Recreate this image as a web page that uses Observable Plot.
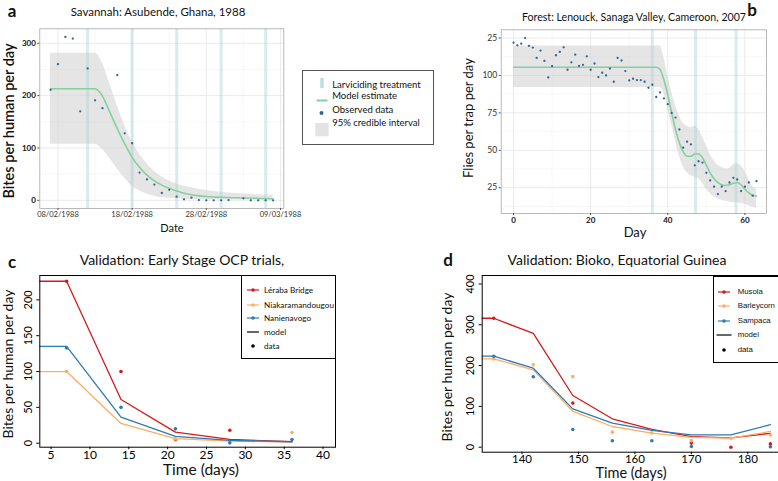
<!DOCTYPE html>
<html><head><meta charset="utf-8">
<script src="https://cdn.jsdelivr.net/npm/d3@7"></script>
<script src="https://cdn.jsdelivr.net/npm/@observablehq/plot@0.6"></script>
<style>
html,body{margin:0;padding:0;background:#fff;}
body{width:778px;height:481px;position:relative;overflow:hidden;font-family:Lato,"Open Sans",sans-serif;color:#111;}
.t{position:absolute;white-space:nowrap;transform:translate(-50%,-50%);line-height:1;}
.lg{position:absolute;box-sizing:border-box;overflow:hidden;background:#fff;}
.lg .it{position:absolute;white-space:nowrap;line-height:1;transform:translateY(-50%);}
</style></head><body>
<script>
// ---------------- DATA ----------------
// Panel a: Savannah, Asubende, Ghana, 1988
const aTickLabels = ["08/02/1988","18/02/1988","28/02/1988","09/03/1988"];
const aObsDates = ["1988-02-07","1988-02-08","1988-02-09","1988-02-10","1988-02-11","1988-02-12","1988-02-13","1988-02-14","1988-02-16","1988-02-17","1988-02-18","1988-02-19","1988-02-20","1988-02-21","1988-02-22","1988-02-23","1988-02-24","1988-02-25","1988-02-26","1988-02-27","1988-02-28","1988-02-29","1988-03-01","1988-03-02","1988-03-04","1988-03-05","1988-03-06","1988-03-07","1988-03-08"];
const aObsValues = [211,260,312,309,170,252,191,176,239,128,109,53,40,30,14,20,7,2,5,0.5,0,0,0,0.5,3.8,0,0,0,0];
const aModelDates = ["1988-02-07","1988-02-13","1988-02-14","1988-02-15","1988-02-16","1988-02-17","1988-02-18","1988-02-19","1988-02-20","1988-02-21","1988-02-22","1988-02-23","1988-02-24","1988-02-25","1988-02-26","1988-02-27","1988-02-28","1988-03-01","1988-03-04","1988-03-08"];
const aModelValues = [213,213,199,168,137,108,82,63,48,37,29,23,18,13.5,10.5,8.5,7.2,5.8,4.5,3];
const aCIDates = ["1988-02-07","1988-02-13","1988-02-14","1988-02-15","1988-02-16","1988-02-17","1988-02-18","1988-02-19","1988-02-20","1988-02-21","1988-02-22","1988-02-23","1988-02-24","1988-02-25","1988-02-26","1988-02-28","1988-03-02","1988-03-08"];
const aCIUpper = [281,281,262,222,180,143,112,88,70,55,45,37,31,27,24,19,14,9.5];
const aCILower = [107,107,97,80,60,42,27,18,12,8,5,4,3,2,1.5,1,0.5,0];
const aTreatDates = ["1988-02-12","1988-02-18","1988-02-24","1988-03-01","1988-03-07"];
const aYTicks = [0,100,200,300];

// Panel b: Forest, Lenouck, Sanaga Valley, Cameroon, 2007
const bObsValues = [121.9,120.1,121.2,125,119.7,118.6,111.7,116.6,109.7,98.7,106.2,113.5,115.7,118.8,103.8,108.8,113.9,106.4,107.1,112.8,103.8,108,98.9,101.8,100,104.6,95.8,111.7,110,102.9,96.7,97.8,96.9,96.9,95.8,91.8,93.8,85.6,88.7,84.7,80.8,75,71.9,63.9,51.8,55.8,54,40,42.7,41.8,35,29.9,25.7,20.8,25.7,22.8,28.5,31.6,30.5,22.8,25.7,28.5,19.7,29.4];
const bObsDays = bObsValues.map((v, i) => i);
const bModelDays = [0,37,38,39,40,41,42,43,44,45,46,47,48,49,50,51,52,53,54,55,56,57,58,59,60,61,62,63];
const bModelValues = [105.5,105.5,104,97,87,75,64,55,49,46,46,47.5,47.5,45,40,35,31,28.5,27,26.5,27,28,28.5,27,24,21.5,20,19.5];
const bCIDays = [0,38,39,40,41,42,43,44,45,46,47,48,49,50,51,52,53,54,55,56,57,58,59,60,61,62,63];
const bCIUpper = [119.6,119.6,112,100,89,80,73,68,66,65,66,64,59,53,47,43,40,38.5,37.5,38,40,41,39.5,36,31,26,24];
const bCILower = [92,92,88,78,67,56,46,39,35,33,32,31,28,24,21,19,17.5,16.5,16,15.5,15,15,14.5,14,13,12,11.5];
const bTreatDays = [36,47.2,57.7];
const bXTicks = [0,20,40,60];
const bYTicks = [25,50,75,100,125];
const bYTickLabels = ["25","50","75","100","25"];

// Panel c: Validation, Early Stage OCP trials
const cSites = ["Léraba Bridge","Niakaramandougou","Nanienavogo"];
const cColors = ["#d7191c","#fdae61","#2c7bb6"];
const cModelDays = [0,7,14,21,28,36];
const cModelLeraba = [226,226,61,15.4,5.2,2];
const cModelNiaka = [100,100,27.5,6.3,3,1.5];
const cModelNanien = [135,135,36.3,9.4,3.8,2];
const cDataLerabaDays = [7,14,21,28];
const cDataLeraba = [226,100,5,18];
const cDataNiakaDays = [7,21,36];
const cDataNiaka = [100,6,15];
const cDataNanienDays = [7,14,21,28,36];
const cDataNanien = [133,50,20,0.5,5];
const cXTicks = [5,10,15,20,25,30,35,40];
const cYTicks = [0,50,100,150,200];

// Panel d: Validation, Bioko, Equatorial Guinea
const dSites = ["Musola","Barleycorn","Sampaca"];
const dColors = ["#d7191c","#fdae61","#2c7bb6"];
const dModelDays = [128,135,142,149,156,163,170,177,184];
const dModelMusola = [316,316,279,126.7,69.6,43.4,26,23,34];
const dModelBarley = [216.6,216.6,189.6,88,50.7,34.3,24,22,38.5];
const dModelSampaca = [223,223,193.6,94,58.8,41,30.4,30.4,55];
const dDataMusolaDays = [135,149,170,177,184];
const dDataMusola = [316,108,10,0,8];
const dDataBarleyDays = [135,142,149,156,163,170,177,184];
const dDataBarley = [216,202,173,36.8,35,16,22,30];
const dDataSampacaDays = [135,142,149,156,163,170,184];
const dDataSampaca = [223,172.5,43.4,15.7,15.7,1.6,1];
const dXTicks = [140,150,160,170,180];
const dYTicks = [0,100,200,300,400];

// ---------------- HELPERS ----------------
const parseISO = d3.utcParse("%Y-%m-%d");
const parseDMY = d3.utcParse("%d/%m/%Y");
function place(node, left, top) {
  node.style.position = "absolute";
  node.style.left = left + "px";
  node.style.top = top + "px";
  document.body.appendChild(node);
}
function txt(s, x, y, size, o = {}) {
  const d = document.createElement("div");
  d.className = "t";
  d.textContent = s;
  d.style.left = x + "px"; d.style.top = y + "px"; d.style.fontSize = size + "px";
  if (o.rot) d.style.transform = "translate(-50%,-50%) rotate(-90deg)";
  if (o.weight) d.style.fontWeight = o.weight;
  if (o.family) d.style.fontFamily = o.family;
  if (o.color) d.style.color = o.color;
  document.body.appendChild(d);
}
const zip = (xs, ys, kx = "x", ky = "y") => xs.map((x, i) => ({[kx]: x, [ky]: ys[i]}));
const ggStyle = "background:transparent;overflow:visible;font-family:Lato,'Open Sans',sans-serif;";

// ---------------- PANEL A ----------------
const aTicks = aTickLabels.map(parseDMY);
const aLabelMap = new Map(aTicks.map((d, i) => [+d, aTickLabels[i]]));
const aMinor = d3.pairs(aTicks).map(([p, q]) => new Date((+p + +q) / 2));
const aStart = aTicks[0];
const dayMs = 864e5;
const obsA = aObsDates.map((d, i) => ({date: parseISO(d), v: aObsValues[i]}));
const modelA = aModelDates.map((d, i) => ({date: parseISO(d), v: aModelValues[i]}));
const ciA = aCIDates.map((d, i) => ({date: parseISO(d), hi: aCIUpper[i], lo: aCILower[i]}));
const treatA = aTreatDates.map(parseISO);

const pa = Plot.plot({
  width: 300, height: 222,
  marginTop: 28.3, marginLeft: 39.3, marginRight: 16.7, marginBottom: 14,
  style: ggStyle,
  x: {type: "utc", domain: [new Date(+aStart - 2.45 * dayMs), new Date(+aStart + 30.45 * dayMs)]},
  y: {domain: [-15.6, 327.6]},
  marks: [
    Plot.gridX(aMinor, {stroke: "#f2f2f2", strokeOpacity: 1, strokeWidth: 0.6}),
    Plot.gridY([50,150,250], {stroke: "#f2f2f2", strokeOpacity: 1, strokeWidth: 0.6}),
    Plot.gridX(aTicks, {stroke: "#e8e8e8", strokeOpacity: 1, strokeWidth: 0.9}),
    Plot.gridY(aYTicks, {stroke: "#e8e8e8", strokeOpacity: 1, strokeWidth: 0.9}),
    Plot.areaY(ciA, {x: "date", y1: "lo", y2: "hi", fill: "#cfcfcf", fillOpacity: 0.55, curve: "monotone-x"}),
    Plot.ruleX(treatA, {stroke: "#a9d8d3", strokeOpacity: 0.45, strokeWidth: 3}),
    Plot.line(modelA, {x: "date", y: "v", stroke: "#86cf9f", strokeWidth: 1.6, curve: "monotone-x"}),
    Plot.dot(obsA, {x: "date", y: "v", r: 1.15, fill: "#33648f"}),
    Plot.frame({stroke: "#a8a8a8", strokeWidth: 0.8}),
    Plot.axisX(aTicks, {tickSize: 2, tickPadding: 1.5, tickFormat: d => aLabelMap.get(+d), fontSize: 7.5, stroke: "#555", fill: "#333", label: null}),
    Plot.axisY(aYTicks, {tickSize: 2, tickPadding: 2, fontSize: 8, fontWeight: "bold", stroke: "#555", fill: "#111", label: null})
  ]
});
place(pa, 0, 0);

// ---------------- PANEL B ----------------
const obsB = zip(bObsDays, bObsValues);
const modelB = zip(bModelDays, bModelValues);
const ciB = bCIDays.map((d, i) => ({x: d, hi: bCIUpper[i], lo: bCILower[i]}));
const bLabelMap = new Map(bYTicks.map((v, i) => [v, bYTickLabels[i]]));
const pb = Plot.plot({
  width: 298, height: 230,
  marginTop: 29.3, marginLeft: 20.7, marginRight: 12, marginBottom: 17,
  style: ggStyle,
  x: {domain: [-3.2, 65.6]},
  y: {domain: [7.8, 130.5]},
  marks: [
    Plot.gridX(d3.range(10, 70, 20), {stroke: "#f2f2f2", strokeOpacity: 1, strokeWidth: 0.6}),
    Plot.gridY(d3.range(12.5, 130, 25), {stroke: "#f2f2f2", strokeOpacity: 1, strokeWidth: 0.6}),
    Plot.gridX(bXTicks, {stroke: "#e8e8e8", strokeOpacity: 1, strokeWidth: 0.9}),
    Plot.gridY(bYTicks, {stroke: "#e8e8e8", strokeOpacity: 1, strokeWidth: 0.9}),
    Plot.areaY(ciB, {x: "x", y1: "lo", y2: "hi", fill: "#cfcfcf", fillOpacity: 0.55, curve: "monotone-x"}),
    Plot.ruleX(bTreatDays, {stroke: "#a9d8d3", strokeOpacity: 0.45, strokeWidth: 3}),
    Plot.line(modelB, {x: "x", y: "y", stroke: "#86cf9f", strokeWidth: 1.6, curve: "monotone-x"}),
    Plot.dot(obsB, {x: "x", y: "y", r: 1.15, fill: "#33648f"}),
    Plot.frame({stroke: "#a8a8a8", strokeWidth: 0.8}),
    Plot.axisX(bXTicks, {tickSize: 2, tickPadding: 1.5, fontSize: 8, fontWeight: "bold", stroke: "#555", fill: "#111", label: null}),
    Plot.axisY(bYTicks, {tickSize: 2, tickPadding: 2, fontSize: 8.5, tickFormat: d => bLabelMap.get(d), stroke: "#555", fill: "#333", label: null})
  ]
});
place(pb, 480, 0);

// ---------------- PANEL C ----------------
const colorC = {domain: cSites, range: cColors};
const modelC = [
  ...zip(cModelDays, cModelLeraba).map(d => ({...d, s: cSites[0]})),
  ...zip(cModelDays, cModelNiaka).map(d => ({...d, s: cSites[1]})),
  ...zip(cModelDays, cModelNanien).map(d => ({...d, s: cSites[2]}))
];
const dataC = [
  ...zip(cDataLerabaDays, cDataLeraba).map(d => ({...d, s: cSites[0]})),
  ...zip(cDataNiakaDays, cDataNiaka).map(d => ({...d, s: cSites[1]})),
  ...zip(cDataNanienDays, cDataNanien).map(d => ({...d, s: cSites[2]}))
];
const pc = Plot.plot({
  width: 345, height: 200,
  marginTop: 10, marginLeft: 39.3, marginRight: 10, marginBottom: 18.3,
  style: ggStyle,
  x: {domain: [3.55, 41.6]},
  y: {domain: [-5.6, 234]},
  color: colorC,
  marks: [
    Plot.line(modelC, {x: "x", y: "y", z: "s", stroke: "s", strokeWidth: 1.3, clip: true}),
    Plot.dot(dataC, {x: "x", y: "y", fill: "s", r: 1.8}),
    Plot.frame({stroke: "#000", strokeWidth: 1}),
    Plot.axisX(cXTicks, {tickSize: 2.5, tickPadding: 0.5, fontSize: 12, stroke: "#000", fill: "#000", label: null}),
    Plot.axisY(cYTicks, {tickSize: 3, tickFormat: () => "", stroke: "#000", label: null}),
    Plot.text(cYTicks, {y: d => d, text: d => String(d), frameAnchor: "left", dx: -11, rotate: -90, textAnchor: "middle", lineAnchor: "middle", fontSize: 11, fill: "#000"})
  ]
});
place(pc, 0, 265);

// ---------------- PANEL D ----------------
const colorD = {domain: dSites, range: dColors};
const modelD = [
  ...zip(dModelDays, dModelMusola).map(d => ({...d, s: dSites[0]})),
  ...zip(dModelDays, dModelBarley).map(d => ({...d, s: dSites[1]})),
  ...zip(dModelDays, dModelSampaca).map(d => ({...d, s: dSites[2]}))
];
const dataD = [
  ...zip(dDataMusolaDays, dDataMusola).map(d => ({...d, s: dSites[0]})),
  ...zip(dDataBarleyDays, dDataBarley).map(d => ({...d, s: dSites[1]})),
  ...zip(dDataSampacaDays, dDataSampaca).map(d => ({...d, s: dSites[2]}))
];
const pd = Plot.plot({
  width: 345, height: 205,
  marginTop: 10, marginLeft: 41.7, marginRight: 4.1, marginBottom: 18.3,
  style: ggStyle,
  x: {domain: [132.95, 185.95]},
  y: {domain: [-12.3, 420.8]},
  color: colorD,
  marks: [
    Plot.line(modelD, {x: "x", y: "y", z: "s", stroke: "s", strokeWidth: 1.3, clip: true}),
    Plot.dot(dataD, {x: "x", y: "y", fill: "s", r: 1.8}),
    Plot.frame({stroke: "#000", strokeWidth: 1}),
    Plot.axisX(dXTicks, {tickSize: 2.5, tickPadding: 0, fontSize: 11.5, stroke: "#000", fill: "#000", label: null}),
    Plot.axisY(dYTicks, {tickSize: 3, tickFormat: () => "", stroke: "#000", label: null}),
    Plot.text(dYTicks, {y: d => d, text: d => String(d), frameAnchor: "left", dx: -11.7, rotate: -90, textAnchor: "middle", lineAnchor: "middle", fontSize: 11, fill: "#000"})
  ]
});
place(pd, 440, 265);

// ---------------- TEXT ----------------
txt("a", 12, 10, 17, {weight: "bold"});
txt("Savannah: Asubende, Ghana, 1988", 158, 12, 11.5);
txt("Bites per human per day", 8.5, 121, 14.5, {rot: true, weight: 600});
txt("Date", 172, 227, 11);

txt("b", 752, 9, 17, {weight: "bold"});
txt("Forest:  Lenouck, Sanaga Valley, Cameroon, 2007", 634, 17, 10.6);
txt("Flies  per trap per day", 468, 118, 13, {rot: true});
txt("Day", 635, 232, 13);

txt("c", 12, 261, 17, {weight: "bold"});
txt("Validation: Early Stage OCP trials,", 182, 260, 14);
txt("Bites per human per day", 8, 364, 14, {rot: true});
txt("Time (days)", 201, 470, 15.5);

txt("d", 448, 259, 17, {weight: "bold"});
txt("Validation: Bioko, Equatorial Guinea", 617, 260, 14);
txt("Bites per human per day", 446.5, 367, 14, {rot: true});
txt("Time (days)", 631, 473, 14.5);

// ---------------- LEGENDS ----------------
function legend(left, top, w, h, items, o) {
  const box = document.createElement("div");
  box.className = "lg";
  Object.assign(box.style, {left: left + "px", top: top + "px", width: w + "px", height: h + "px", border: o.border, fontSize: o.font + "px", fontFamily: o.family || "inherit"});
  items.forEach(it => {
    const sw = document.createElementNS("http://www.w3.org/2000/svg", "svg");
    sw.setAttribute("width", 20); sw.setAttribute("height", 20);
    Object.assign(sw.style, {position: "absolute", left: (o.swx - 10) + "px", top: (it.y - 10) + "px", overflow: "visible"});
    sw.innerHTML = it.svg;
    box.appendChild(sw);
    const t = document.createElement("div");
    t.className = "it"; t.textContent = it.label;
    t.style.left = o.tx + "px"; t.style.top = it.y + "px";
    box.appendChild(t);
  });
  document.body.appendChild(box);
}
// middle legend (panels a, b)
const legAB = ["Larviciding treatment","Model estimate","Observed data","95% credible interval"];
legend(301.7, 70, 132.3, 75, [
  {y: 13.5, label: legAB[0], svg: '<rect x="8.3" y="3" width="3.4" height="10" fill="#a9d8d3" fill-opacity="0.8"/>'},
  {y: 25, label: legAB[1], svg: '<line x1="4.5" x2="15.5" y1="14.5" y2="14.5" stroke="#86cf9f" stroke-width="2"/>'},
  {y: 38.5, label: legAB[2], svg: '<circle cx="9.5" cy="13" r="2" fill="#33648f"/>'},
  {y: 52, label: legAB[3], svg: '<rect x="3.3" y="10" width="13.3" height="13.3" fill="#e3e3e3"/>'}
], {border: "1px solid #555", font: 9.5, swx: 19.5, tx: 29.5});

// panel c legend
const lineSw = c => `<line x1="4" x2="16" y1="10" y2="10" stroke="${c}" stroke-width="1.2"/><circle cx="10" cy="10" r="1.8" fill="${c}"/>`;
legend(240.7, 275, 95.3, 84.3, [
  {y: 14, label: cSites[0], svg: lineSw(cColors[0])},
  {y: 28.7, label: cSites[1], svg: lineSw(cColors[1])},
  {y: 42, label: cSites[2], svg: lineSw(cColors[2])},
  {y: 56, label: "model", svg: '<line x1="4" x2="16" y1="10" y2="10" stroke="#000" stroke-width="1.2"/>'},
  {y: 70, label: "data", svg: '<circle cx="10" cy="10" r="1.8" fill="#000"/>'}
], {border: "1px solid #000", font: 8.2, swx: 11.5, tx: 22.3});

// panel d legend
legend(713.3, 276, 66, 87.3, [
  {y: 15, label: dSites[0], svg: lineSw(dColors[0])},
  {y: 29.3, label: dSites[1], svg: lineSw(dColors[1])},
  {y: 44, label: dSites[2], svg: lineSw(dColors[2])},
  {y: 58.3, label: "model", svg: '<line x1="2.5" x2="17.5" y1="10" y2="10" stroke="#000" stroke-width="1.2"/>'},
  {y: 73, label: "data", svg: '<circle cx="10" cy="10" r="1.8" fill="#000"/>'}
], {border: "1px solid #000", font: 7.8, family: "'Liberation Sans', Arial, sans-serif", swx: 9.2, tx: 23.4});
</script>
</body></html>
